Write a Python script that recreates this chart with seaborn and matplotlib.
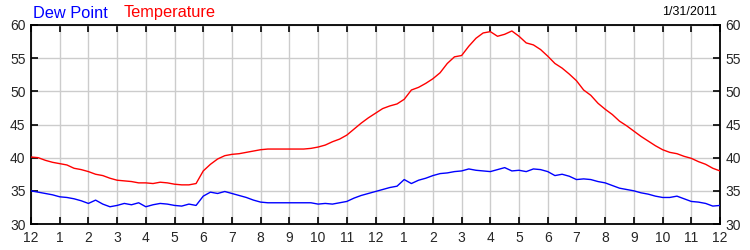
import numpy as np
import pandas as pd
import matplotlib
matplotlib.use("Agg")
import matplotlib.pyplot as plt
import seaborn as sns

hours = [i * 0.25 for i in range(97)]
temperature = [
    40.1, 40.0, 39.6, 39.3, 39.1, 38.9, 38.4, 38.2, 37.9, 37.5, 37.3, 36.9,
    36.6, 36.5, 36.4, 36.2, 36.2, 36.1, 36.3, 36.2, 36.0, 35.9, 35.9, 36.1,
    38.0, 39.0, 39.8, 40.3, 40.5, 40.6, 40.8, 41.0, 41.2, 41.3, 41.3, 41.3,
    41.3, 41.3, 41.3, 41.4, 41.6, 41.9, 42.4, 42.8, 43.4, 44.3, 45.2, 46.0,
    46.7, 47.4, 47.8, 48.1, 48.8, 50.2, 50.6, 51.2, 51.9, 52.8, 54.2, 55.2,
    55.4, 56.8, 58.0, 58.8, 59.0, 58.3, 58.6, 59.1, 58.3, 57.3, 57.0, 56.3,
    55.3, 54.2, 53.5, 52.6, 51.6, 50.2, 49.4, 48.2, 47.3, 46.5, 45.5, 44.8,
    44.0, 43.2, 42.5, 41.8, 41.2, 40.8, 40.6, 40.2, 39.9, 39.4, 39.0, 38.4,
    38.0,
]
dew_point = [
    35.0, 34.8, 34.6, 34.4, 34.1, 34.0, 33.8, 33.5, 33.1, 33.6, 33.0, 32.6,
    32.8, 33.1, 32.9, 33.2, 32.6, 32.9, 33.1, 33.0, 32.8, 32.7, 33.0, 32.8,
    34.2, 34.8, 34.6, 34.9, 34.6, 34.3, 34.0, 33.6, 33.3, 33.2, 33.2, 33.2,
    33.2, 33.2, 33.2, 33.2, 33.0, 33.1, 33.0, 33.2, 33.4, 33.9, 34.3, 34.6,
    34.9, 35.2, 35.5, 35.7, 36.7, 36.1, 36.6, 36.9, 37.3, 37.6, 37.7, 37.9,
    38.0, 38.3, 38.1, 38.0, 37.9, 38.2, 38.5, 38.0, 38.1, 37.9, 38.3, 38.2,
    37.9, 37.3, 37.5, 37.2, 36.7, 36.8, 36.7, 36.4, 36.2, 35.8, 35.4, 35.2,
    35.0, 34.7, 34.5, 34.2, 34.0, 34.0, 34.2, 33.8, 33.4, 33.3, 33.1, 32.7,
    32.8,
]
x_tick_labels = ["12", "1", "2", "3", "4", "5", "6", "7", "8", "9", "10", "11",
                 "12", "1", "2", "3", "4", "5", "6", "7", "8", "9", "10", "11", "12"]
y_ticks = [30, 35, 40, 45, 50, 55, 60]
date_label = "1/31/2011"

df = pd.DataFrame({"hour": hours * 2,
                   "value": temperature + dew_point,
                   "series": ["Temperature"] * len(hours) + ["Dew Point"] * len(hours)})

sns.set_style("white")
plt.rcParams["font.family"] = ["Liberation Sans", "DejaVu Sans"]

fig = plt.figure(figsize=(7.5, 2.5), dpi=100)
ax = fig.add_axes([31 / 750, 1 - 224 / 250, 689 / 750, 199 / 250])

sns.lineplot(data=df, x="hour", y="value", hue="series",
             palette={"Temperature": "#ff0000", "Dew Point": "#0000ff"},
             linewidth=1.0, legend=False, ax=ax, zorder=3)

ax.set_xlim(0, 24)
ax.set_ylim(30, 60)
ax.set_xticks(range(25))
ax.set_xticklabels(x_tick_labels)
ax.set_yticks(y_ticks)
ax.set_xlabel("")
ax.set_ylabel("")
ax.grid(True, color="#cccccc", linewidth=1.0, zorder=0)
for s in ax.spines.values():
    s.set_color("black")
    s.set_linewidth(1.3)
ax.tick_params(axis="both", direction="in", length=5, width=1.2, color="black",
               labelsize=10, top=True, right=True, labelright=True, left=True,
               bottom=True, pad=4)
ax.tick_params(axis="x", pad=5)

fig.text(33 / 750, 1 - 13 / 250, "Dew Point", color="#0000ff", fontsize=11.8, va="center", ha="left")
fig.text(124 / 750, 1 - 13 / 250, "Temperature", color="#ff0000", fontsize=11.8, va="center", ha="left")
fig.text(717 / 750, 1 - 12 / 250, date_label, color="black", fontsize=9, va="center", ha="right")

fig.savefig("out.png", dpi=100, facecolor="white")
